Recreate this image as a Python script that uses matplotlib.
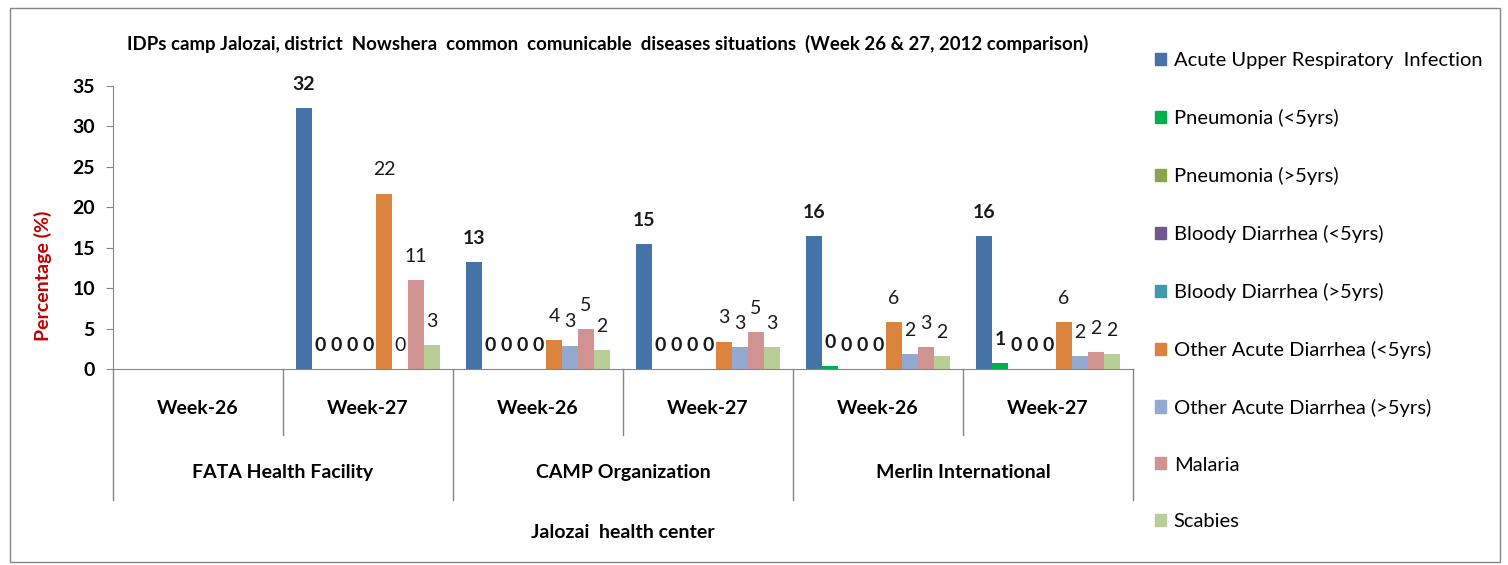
import matplotlib
matplotlib.use("Agg")
import matplotlib.pyplot as plt
import matplotlib.patches as mpatches
import matplotlib.transforms as mtransforms
import numpy as np

plt.rcParams['font.family'] = ['Lato', 'DejaVu Sans']

# Data
weeks = ['Week-26', 'Week-27', 'Week-26', 'Week-27', 'Week-26', 'Week-27']
facilities = ['FATA Health Facility', 'CAMP Organization', 'Merlin International']
series_names = ['Acute Upper Respiratory  Infection', 'Pneumonia (<5yrs)', 'Pneumonia (>5yrs)',
                'Bloody Diarrhea (<5yrs)', 'Bloody Diarrhea (>5yrs)', 'Other Acute Diarrhea (<5yrs)',
                'Other Acute Diarrhea (>5yrs)', 'Malaria', 'Scabies']
colors = ['#4572A7', '#00B050', '#89A54E', '#71588F', '#4198AF',
          '#DB843D', '#93A9CF', '#D19392', '#B9CD96']
nan = np.nan
# rows = series, columns = facility/week
aui = [nan, 32.3, 13.2, 15.4, 16.4, 16.4]
pneu_u5 = [nan, 0, 0, 0, 0.4, 0.7]
pneu_o5 = [nan, 0, 0, 0, 0, 0]
bloody_u5 = [nan, 0, 0, 0, 0, 0]
bloody_o5 = [nan, 0, 0, 0, 0, 0]
other_u5 = [nan, 21.7, 3.6, 3.4, 5.8, 5.8]
other_o5 = [nan, 0, 2.9, 2.7, 1.9, 1.6]
malaria = [nan, 11.0, 4.9, 4.6, 2.7, 2.1]
scabies = [nan, 3.0, 2.3, 2.7, 1.6, 1.8]
values = [aui, pneu_u5, pneu_o5, bloody_u5, bloody_o5, other_u5, other_o5, malaria, scabies]
bold_labels = [True, True, True, True, True, False, False, False, False]

fig = plt.figure(figsize=(15.08, 5.65), dpi=100)
ax = fig.add_axes([0.0749, 0.3469, 0.6764, 0.5009])

x = np.arange(len(weeks))
w = 0.094
grey = '#868686'
fs = 14
for i, (vals, c) in enumerate(zip(values, colors)):
    pos = x + (i - 4) * w
    ax.bar(pos, vals, width=w, color=c, edgecolor='none')
    for px, v in zip(pos, vals):
        if np.isnan(v):
            continue
        ax.annotate(f"{v:.0f}", (px, v), xytext=(0, 17), textcoords='offset points',
                    ha='center', va='center', fontsize=fs,
                    fontweight='bold' if bold_labels[i] else 'normal', color='#1a1a1a')

ax.set_xlim(-0.5, 5.5)
ax.set_ylim(0, 35)
ax.set_yticks(range(0, 36, 5))
ax.tick_params(axis='y', direction='out', length=5, color=grey, labelsize=fs, pad=8)
for lbl in ax.get_yticklabels():
    lbl.set_fontweight('bold')
ax.set_xticks([])
for s in ['top', 'right']:
    ax.spines[s].set_visible(False)
for s in ['left', 'bottom']:
    ax.spines[s].set_color(grey)
ax.set_ylabel('Percentage (%)', color='#C00000', fontweight='bold', fontsize=fs)
ax.yaxis.set_label_coords(-0.060, 0.33)

# multi-level category axis
trans = mtransforms.blended_transform_factory(ax.transData, ax.transAxes)
for k in range(len(weeks) + 1):
    b = k - 0.5
    y_end = -0.463 if k % 2 == 0 else -0.233
    ax.plot([b, b], [0, y_end], color=grey, lw=1, transform=trans, clip_on=False)
for k, wk in enumerate(weeks):
    ax.text(k, -0.138, wk, transform=trans, ha='center', va='center',
            fontsize=fs, fontweight='bold')
for j, fac in enumerate(facilities):
    ax.text(2 * j + 0.5, -0.364, fac, transform=trans, ha='center', va='center',
            fontsize=fs, fontweight='bold')
ax.text(2.5, -0.576, 'Jalozai  health center', transform=trans, ha='center', va='center',
        fontsize=fs, fontweight='bold')

fig.text(0.403, 0.922, 'IDPs camp Jalozai, district  Nowshera  common  comunicable  diseases situations  (Week 26 & 27, 2012 comparison)',
         ha='center', va='center', fontsize=13.4, fontweight='bold')

handles = [mpatches.Patch(color=c) for c in colors]
fig.legend(handles, series_names, loc='upper left', bbox_to_anchor=(0.7537, 0.94),
           frameon=False, fontsize=14.5, labelspacing=1.98, handlelength=0.55,
           handleheight=0.55, handletextpad=0.4)

fig.patches.append(mpatches.Rectangle((10 / 1508, 3 / 565), 1490 / 1508, 554 / 565,
                                      transform=fig.transFigure, fill=False,
                                      edgecolor=grey, lw=1))

fig.savefig('out.png', dpi=100)
